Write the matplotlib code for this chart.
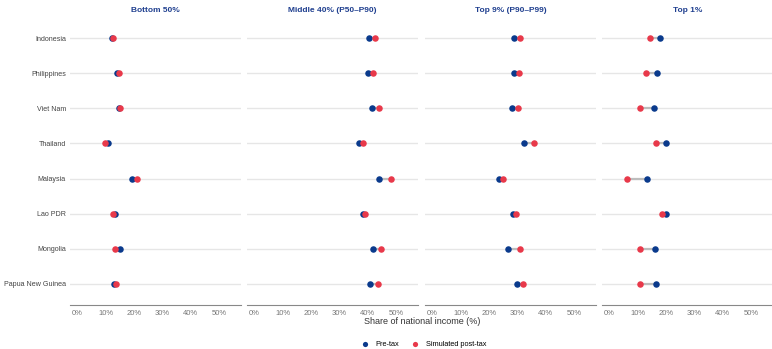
import matplotlib.pyplot as plt

plt.rcParams['font.family'] = ['Liberation Sans', 'DejaVu Sans']

countries = ["Indonesia", "Philippines", "Viet Nam", "Thailand", "Malaysia",
             "Lao PDR", "Mongolia", "Papua New Guinea"]
groups = ["Bottom 50%", "Middle 40% (P50\u2013P90)", "Top 9% (P90\u2013P99)", "Top 1%"]

pre_bottom50 = [12.4, 14.1, 14.7, 10.8, 19.3, 13.2, 15.1, 12.9]
post_bottom50 = [12.6, 14.7, 14.9, 9.9, 21.0, 12.7, 13.3, 13.7]
pre_middle40 = [40.6, 40.1, 41.5, 36.8, 44.1, 38.5, 42.0, 40.8]
post_middle40 = [42.6, 42.0, 43.9, 38.2, 48.1, 39.0, 44.9, 43.7]
pre_top9 = [28.9, 28.7, 28.0, 32.5, 23.4, 28.6, 26.7, 29.8]
post_top9 = [30.8, 30.7, 30.4, 35.8, 24.8, 29.6, 31.0, 32.1]
pre_top1 = [17.9, 16.7, 15.8, 20.0, 13.2, 19.9, 16.2, 16.5]
post_top1 = [14.2, 12.8, 10.8, 16.3, 6.2, 18.7, 10.8, 10.7]

pre = [pre_bottom50, pre_middle40, pre_top9, pre_top1]
post = [post_bottom50, post_middle40, post_top9, post_top1]

blue = "#0A3A8C"
red = "#E8394A"
W, H = 772, 349
fig = plt.figure(figsize=(W / 100, H / 100), dpi=100)

lefts = [70, 247, 425, 602]
pw = 171
y = list(range(len(countries)))
for i, g in enumerate(groups):
    ax = fig.add_axes([lefts[i] / W, (H - 305) / H, pw / W, 288 / H])
    for k in y:
        ax.axhline(k, color="#E6E6E6", lw=1, zorder=0)
        ax.plot([pre[i][k], post[i][k]], [k, k], color="#BDBDBD", lw=1.6, zorder=1)
    ax.scatter(pre[i], y, s=22, color=blue, zorder=3, linewidths=0,
               label="Pre-tax")
    ax.scatter(post[i], y, s=22, color=red, zorder=4, linewidths=0,
               label="Simulated post-tax")
    ax.set_xlim(-2.6, 57.8)
    ax.set_ylim(7.6, -0.6)
    ax.set_xticks([0, 10, 20, 30, 40, 50])
    ax.set_xticklabels(["0%", "10%", "20%", "30%", "40%", "50%"])
    ax.set_yticks(y)
    if i == 0:
        ax.set_yticklabels(countries)
    else:
        ax.set_yticklabels([])
    ax.tick_params(axis="x", length=0, labelsize=5.5, colors="#777777", pad=3.5)
    ax.tick_params(axis="y", length=0, labelsize=5.1, labelcolor="#444444", pad=3)
    for s in ["top", "right", "left"]:
        ax.spines[s].set_visible(False)
    ax.spines["bottom"].set_color("#888888")
    ax.spines["bottom"].set_linewidth(0.8)
    ax.set_title(g, fontsize=6, fontweight="bold", color="#1F3F8F", pad=3.5)

fig.text(422 / W, 1 - 321 / H, "Share of national income (%)", ha="center",
         va="center", fontsize=6.5, color="#333333")
h, l = ax.get_legend_handles_labels()
fig.legend(h, l, loc="center", bbox_to_anchor=(422 / W, 1 - 344 / H), ncol=2,
           frameon=False, fontsize=5.3, handletextpad=0.4, columnspacing=1.2,
           markerscale=0.8)

fig.savefig("out.png", dpi=100, facecolor="white")
